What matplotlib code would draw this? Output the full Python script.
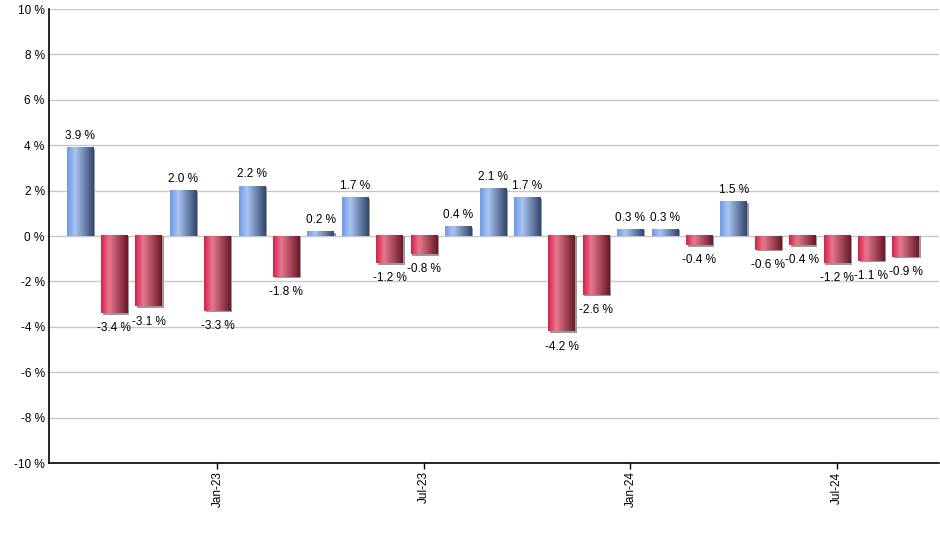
import numpy as np
import matplotlib.pyplot as plt
from matplotlib.colors import LinearSegmentedColormap

plt.rcParams['font.family'] = ['Liberation Sans', 'DejaVu Sans']

months = ['Sep-22', 'Oct-22', 'Nov-22', 'Dec-22', 'Jan-23', 'Feb-23', 'Mar-23', 'Apr-23',
          'May-23', 'Jun-23', 'Jul-23', 'Aug-23', 'Sep-23', 'Oct-23', 'Nov-23', 'Dec-23',
          'Jan-24', 'Feb-24', 'Mar-24', 'Apr-24', 'May-24', 'Jun-24', 'Jul-24', 'Aug-24', 'Sep-24']
values = [3.9, -3.4, -3.1, 2.0, -3.3, 2.2, -1.8, 0.2, 1.7, -1.2, -0.8, 0.4, 2.1, 1.7,
          -4.2, -2.6, 0.3, 0.3, -0.4, 1.5, -0.6, -0.4, -1.2, -1.1, -0.9]
tick_months = ['Jan-23', 'Jul-23', 'Jan-24', 'Jul-24']

blue_cm = LinearSegmentedColormap.from_list('b', [(0, '#6e98e6'), (0.3, '#a9c5f2'), (1, '#33466b')])
red_cm = LinearSegmentedColormap.from_list('r', [(0, '#d8204a'), (0.3, '#e8788e'), (1, '#6a1828')])
grad = np.linspace(0, 1, 64).reshape(1, -1)

fig = plt.figure(figsize=(9.4, 5.5), dpi=100)
ax = fig.add_axes([0.052, 0.158, 0.947, 0.8255])

x = np.arange(len(values))
w = 0.77
for xi, v in zip(x, values):
    cm = blue_cm if v >= 0 else red_cm
    # little gray shadow right / below
    if v >= 0:
        ax.add_patch(plt.Rectangle((xi - w / 2 + 0.05, 0), w, v - 0.05, color='#9a9a9a', zorder=2, lw=0))
    else:
        ax.add_patch(plt.Rectangle((xi - w / 2 + 0.05, v - 0.06), w, -v + 0.06, color='#9a9a9a', zorder=2, lw=0))
    ax.imshow(grad, cmap=cm, aspect='auto', extent=(xi - w / 2, xi + w / 2, min(0, v), max(0, v)),
              zorder=3, interpolation='bicubic')
    if v >= 0:
        ax.text(xi, v + 0.25, f'{v:.1f} %', ha='center', va='bottom', fontsize=8.5, zorder=4)
    else:
        ax.text(xi, v - 0.4, f'{v:.1f} %', ha='center', va='top', fontsize=8.5, zorder=4)

ax.set_xlim(-0.9, len(values) - 0.03)
ax.set_ylim(-10, 10)
ax.set_yticks(np.arange(-10, 11, 2))
ax.set_yticklabels([f'{t} %' for t in range(-10, 11, 2)], fontsize=8.5)
ax.tick_params(axis='y', length=0, pad=3)
ax.set_xticks([months.index(m) for m in tick_months])
ax.set_xticklabels(tick_months, rotation=90, fontsize=8.5)
ax.tick_params(axis='x', length=4, width=1, pad=2)
ax.grid(axis='y', color='#c8c8c8', lw=1, zorder=0)
ax.set_axisbelow(True)
for s in ['top', 'right']:
    ax.spines[s].set_visible(False)
ax.spines['left'].set_linewidth(1.2)
ax.spines['bottom'].set_linewidth(1.2)

fig.savefig('out.png', dpi=100)
